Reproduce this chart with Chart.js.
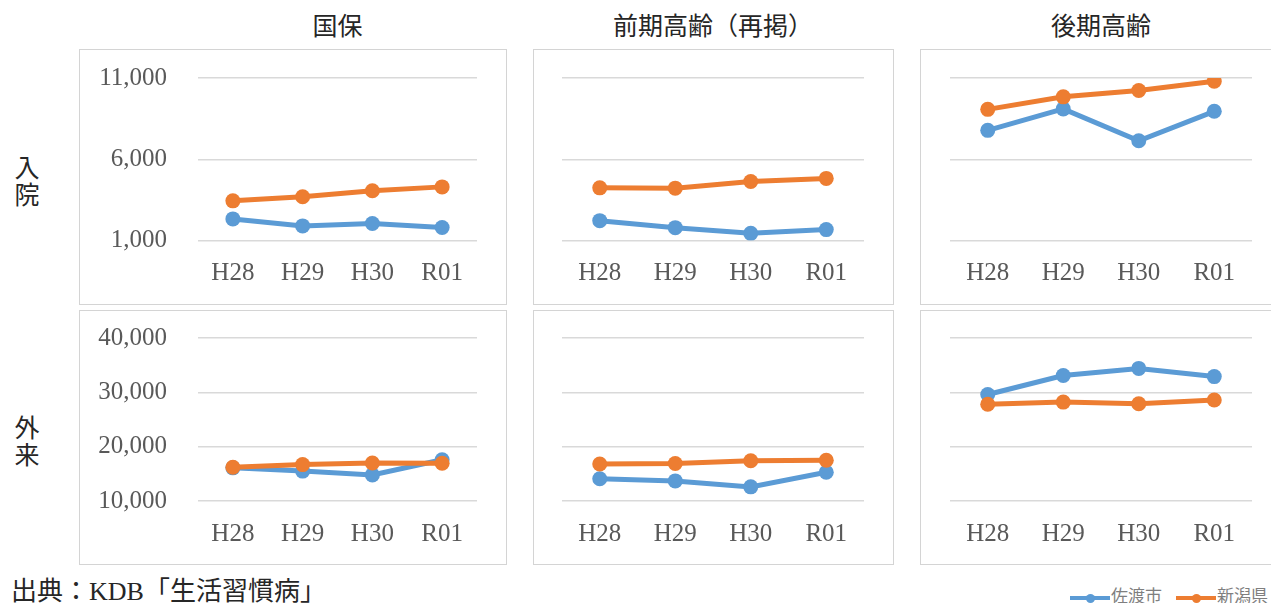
<!DOCTYPE html>
<html>
<head>
<meta charset="utf-8">
<script src="https://cdn.jsdelivr.net/npm/chart.js@4.4.1/dist/chart.umd.min.js"></script>
<style>
  body { margin: 0; width: 1271px; height: 603px; overflow: hidden; background: #fff;
         font-family: "Liberation Serif", "Noto Sans CJK JP", serif; }
  .box { position: absolute; border: 1px solid #d4d4d4; box-sizing: border-box; }
  canvas { position: absolute; }
  .title { position: absolute; top: 6px; font-size: 25px; color: #262626; text-align: center; white-space: nowrap; }
  .row { position: absolute; left: 14px; width: 26px; font-size: 25px; line-height: 27px; color: #262626; text-align: center; }
  .source { position: absolute; left: 11px; top: 570px; font-size: 26px; color: #262626; white-space: nowrap; }
  .legend { position: absolute; top: 582px; font-size: 17px; color: #7f7f7f; white-space: nowrap; }
  .legend span.mk { display: inline-block; position: relative; width: 40px; height: 4px; vertical-align: middle; margin-right: 1px; }
  .legend span.mk i { position: absolute; left: 16px; top: -2.5px; width: 9px; height: 9px; border-radius: 50%; }
</style>
</head>
<body>
<div class="title" style="left:198px;width:279px;">国保</div>
<div class="title" style="left:562px;width:302px;">前期高齢（再掲）</div>
<div class="title" style="left:950px;width:302px;">後期高齢</div>
<div class="row" style="top:155px;">入<br>院</div>
<div class="row" style="top:415px;">外<br>来</div>

<div class="box" style="left:79px;top:49px;width:428px;height:256px;"></div>
<div class="box" style="left:533px;top:49px;width:361px;height:256px;"></div>
<div class="box" style="left:920px;top:49px;width:360px;height:256px;"></div>
<div class="box" style="left:79px;top:310px;width:428px;height:255px;"></div>
<div class="box" style="left:533px;top:310px;width:361px;height:255px;"></div>
<div class="box" style="left:920px;top:310px;width:360px;height:255px;"></div>

<canvas id="c1" width="426" height="254" style="left:80px;top:50px;"></canvas>
<canvas id="c2" width="359" height="254" style="left:534px;top:50px;"></canvas>
<canvas id="c3" width="358" height="254" style="left:921px;top:50px;"></canvas>
<canvas id="c4" width="426" height="253" style="left:80px;top:311px;"></canvas>
<canvas id="c5" width="359" height="253" style="left:534px;top:311px;"></canvas>
<canvas id="c6" width="358" height="253" style="left:921px;top:311px;"></canvas>

<div class="source">出典：KDB「生活習慣病」</div>
<div class="legend" id="legend" style="left:1070px;"></div>

<script>
// 年度
var years = ['H28', 'H29', 'H30', 'R01'];
var seriesNames = ['佐渡市', '新潟県'];
var seriesColors = ['#5b9bd5', '#ed7d31'];

// 目盛り
var inpatientTicks = [1000, 6000, 11000];
var outpatientTicks = [10000, 20000, 30000, 40000];

// 入院
var kokuhoInSado = [2330, 1900, 2050, 1800];
var kokuhoInNiigata = [3440, 3690, 4060, 4300];
var zenkiInSado = [2220, 1790, 1440, 1670];
var zenkiInNiigata = [4240, 4220, 4630, 4820];
var kokiInSado = [7780, 9100, 7140, 8950];
var kokiInNiigata = [9070, 9840, 10230, 10800];

// 外来
var kokuhoOutSado = [16100, 15500, 14800, 17600];
var kokuhoOutNiigata = [16200, 16700, 17000, 16950];
var zenkiOutSado = [14100, 13700, 12600, 15300];
var zenkiOutNiigata = [16800, 16900, 17400, 17500];
var kokiOutSado = [29600, 33100, 34400, 32900];
var kokiOutNiigata = [27800, 28200, 27900, 28600];

function makeChart(id, sado, niigata, ticks, showTicks, axisWidth, padRight, padTop, xHeight) {
  var ctx = document.getElementById(id).getContext('2d');
  var values = [sado, niigata];
  var datasets = values.map(function (v, i) {
    return {
      label: seriesNames[i],
      data: v,
      borderColor: seriesColors[i],
      backgroundColor: seriesColors[i],
      borderWidth: 5,
      pointRadius: 7.5,
      pointBorderWidth: 0,
      pointBackgroundColor: seriesColors[i],
      tension: 0,
      order: 1 - i
    };
  });
  return new Chart(ctx, {
    type: 'line',
    data: { labels: years, datasets: datasets },
    options: {
      responsive: false,
      animation: false,
      layout: { padding: { left: 0, right: padRight, top: padTop, bottom: 0 } },
      plugins: { legend: { display: false }, tooltip: { enabled: false } },
      scales: {
        x: {
          offset: true,
          grid: { display: false },
          border: { display: false },
          ticks: { color: '#595959', padding: 10, font: { family: 'Liberation Serif', size: 25 } },
          afterFit: function (s) { s.height = xHeight; }
        },
        y: {
          min: ticks[0],
          max: ticks[ticks.length - 1],
          afterBuildTicks: function (s) { s.ticks = ticks.map(function (t) { return { value: t }; }); },
          grid: { color: '#d9d9d9', lineWidth: 1.5, drawTicks: false },
          border: { display: false },
          ticks: {
            display: showTicks,
            color: '#595959',
            padding: 31,
            font: { family: 'Liberation Serif', size: 25 },
            callback: function (v) { return v.toLocaleString('en-US'); }
          },
          afterFit: function (s) {
            s.width = axisWidth;
            s.paddingTop = 15;
            s.paddingBottom = 15;
          }
        }
      }
    }
  });
}

makeChart('c1', kokuhoInSado, kokuhoInNiigata, inpatientTicks, true, 118, 29, 28, 63.5);
makeChart('c2', zenkiInSado, zenkiInNiigata, inpatientTicks, false, 28, 29, 28, 63.5);
makeChart('c3', kokiInSado, kokiInNiigata, inpatientTicks, false, 29, 27, 28, 63.5);
makeChart('c4', kokuhoOutSado, kokuhoOutNiigata, outpatientTicks, true, 118, 29, 27, 63);
makeChart('c5', zenkiOutSado, zenkiOutNiigata, outpatientTicks, false, 28, 29, 27, 63);
makeChart('c6', kokiOutSado, kokiOutNiigata, outpatientTicks, false, 29, 27, 27, 63);

// 凡例
var legend = document.getElementById('legend');
legend.innerHTML = seriesNames.map(function (n, i) {
  return '<span class="mk" style="background:' + seriesColors[i] + '"><i style="background:' + seriesColors[i] + '"></i></span>' + n;
}).join('<span style="display:inline-block;width:14px"></span>');
</script>
</body>
</html>
